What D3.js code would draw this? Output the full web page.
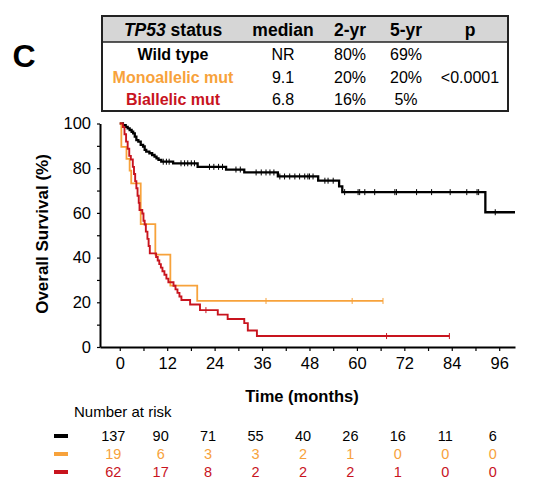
<!DOCTYPE html>
<html>
<head>
<meta charset="utf-8">
<script src="https://cdn.jsdelivr.net/npm/d3@7"></script>
<style>
body { margin: 0; background: #fff; }
svg { display: block; font-family: "Liberation Sans", Arial, sans-serif; }
</style>
</head>
<body>
<svg id="mySVG" width="534" height="496"></svg>
<script>
//---groups + colours---
var groupNames = ["Wild type", "Monoallelic mut", "Biallelic mut"]
var groupColors = ["#000000", "#F7A23B", "#C8141E"]

//---summary table---
var tableMedian = ["NR", "9.1", "6.8"]
var table2yr = ["80%", "20%", "16%"]
var table5yr = ["69%", "20%", "5%"]
var tableP = "<0.0001"

//---KM steps (months, % surviving after the step)---
var wtTimes = [0, 0.8, 1.5, 2.0, 2.5, 3.0, 3.4, 3.8, 4.2, 4.7, 5.3, 5.9, 6.3, 6.7, 7.5, 8.2, 8.8, 9.3, 9.8, 10.5, 13.5, 19.7, 26.9, 31.5, 40.0, 50.2, 55.5, 56.3, 92.5]
var wtSurv = [100, 99.3, 98.5, 97.8, 97.1, 96.3, 95.6, 94.1, 92.6, 91.9, 90.4, 89.7, 88.2, 87.4, 86.7, 85.9, 85.2, 84.4, 83.7, 82.9, 82.2, 80.6, 79.4, 78.1, 76.3, 74.4, 71.9, 69.3, 60.3]
var wtEnd = 100
var wtCensor = [11, 11.8, 12.5, 15.5, 16.4, 17.2, 18.1, 18.9, 22.7, 23.8, 25, 26, 29.4, 30.5, 34.5, 35.8, 37, 38, 39, 40.5, 41.7, 43, 44.3, 45.5, 46.8, 47.6, 48, 48.9, 51.9, 52.7, 54, 56.9, 60.3, 60.7, 62, 64.5, 69.6, 70, 75.1, 78.9, 83.6, 87.8, 90.4, 90.8, 95]

var monoTimes = [0, 0.4, 1.7, 2.5, 2.9, 5.3, 9.0, 12.8, 19.6]
var monoSurv = [100, 89.5, 84.2, 78.9, 73.2, 55.0, 41.3, 27.5, 20.6]
var monoEnd = 66.6
var monoCensor = [37, 58.8, 66.6]

var biTimes = [0, 0.8, 1.2, 1.6, 2.0, 2.4, 2.8, 3.3, 3.6, 3.9, 4.2, 4.5, 4.8, 5.0, 5.7, 6.0, 6.3, 6.6, 7.0, 7.3, 7.6, 9.2, 9.6, 10.0, 10.4, 10.8, 11.3, 11.8, 12.3, 13.6, 14.1, 14.6, 15.1, 15.6, 17.8, 20.3, 24.8, 27.3, 31.5, 32.4, 34.7]
var biSurv = [100, 98.4, 95.2, 91.9, 88.7, 85.5, 83.9, 80.6, 77.4, 74.2, 71.0, 67.7, 64.5, 61.3, 59.7, 56.5, 54.8, 51.6, 48.4, 45.2, 41.9, 40.3, 38.7, 37.1, 35.5, 33.9, 32.3, 30.6, 29.0, 27.4, 25.8, 24.2, 22.6, 21.0, 19.0, 16.5, 14.5, 12.5, 10.7, 7.4, 4.9]
var biEnd = 83.4
var biCensor = [21.8, 67.5, 83.4]

//---number at risk---
var riskTimes = [0, 12, 24, 36, 48, 60, 72, 84, 96]
var wtRisk = [137, 90, 71, 55, 40, 26, 16, 11, 6]
var monoRisk = [19, 6, 3, 3, 2, 1, 0, 0, 0]
var biRisk = [62, 17, 8, 2, 2, 2, 1, 0, 0]

var curves = [
    {times: wtTimes, surv: wtSurv, end: wtEnd, censor: wtCensor, risk: wtRisk, width: 2.3},
    {times: monoTimes, surv: monoSurv, end: monoEnd, censor: monoCensor, risk: monoRisk, width: 1.8},
    {times: biTimes, surv: biSurv, end: biEnd, censor: biCensor, risk: biRisk, width: 1.9}
]

var MySVG = d3.select("#mySVG")
MySVG.append("rect").attr("width", 534).attr("height", 496).attr("fill", "white")

//---panel letter---
MySVG.append("text")
    .attr("x", 24).attr("y", 67)
    .attr("text-anchor", "middle")
    .attr("font-size", 32).attr("font-weight", "bold")
    .text("C")

//---table---
var TableG = MySVG.append("g").attr("id", "tableG")
var colX = [173, 283, 350, 406, 470]
var rowY = [60, 83, 105]
TableG.append("rect")
    .attr("x", 102).attr("y", 16).attr("width", 406).attr("height", 26)
    .attr("fill", "#d6d6d6")
TableG.append("rect")
    .attr("x", 102).attr("y", 16).attr("width", 406).attr("height", 95)
    .attr("fill", "none").attr("stroke", "#222").attr("stroke-width", 2)
TableG.append("line")
    .attr("x1", 102).attr("x2", 508).attr("y1", 42).attr("y2", 42)
    .attr("stroke", "#222").attr("stroke-width", 1.5)

var head = TableG.append("text")
    .attr("x", colX[0]).attr("y", 36)
    .attr("text-anchor", "middle")
    .attr("font-size", 17.5).attr("font-weight", "bold")
head.append("tspan").attr("font-style", "italic").text("TP53")
head.append("tspan").text(" status")
var heads = ["median", "2-yr", "5-yr", "p"]
heads.forEach(function(h, i) {
    TableG.append("text")
        .attr("x", colX[i + 1]).attr("y", 36)
        .attr("text-anchor", "middle")
        .attr("font-size", 17.5).attr("font-weight", "bold")
        .text(h)
})
groupNames.forEach(function(g, i) {
    TableG.append("text")
        .attr("x", colX[0]).attr("y", rowY[i])
        .attr("text-anchor", "middle")
        .attr("font-size", 16).attr("font-weight", "bold")
        .attr("fill", i == 0 ? "#000" : groupColors[i])
        .text(g)
    var vals = [tableMedian[i], table2yr[i], table5yr[i]]
    vals.forEach(function(v, j) {
        TableG.append("text")
            .attr("x", colX[j + 1]).attr("y", rowY[i])
            .attr("text-anchor", "middle")
            .attr("font-size", 16)
            .text(v)
    })
})
TableG.append("text")
    .attr("x", colX[4]).attr("y", rowY[1])
    .attr("text-anchor", "middle")
    .attr("font-size", 16)
    .text(tableP)

//---scales---
var x = d3.scaleLinear().domain([-5, 100]).range([100, 515])
var y = d3.scaleLinear().domain([0, 100]).range([347, 123.5])

//---axes---
var PlotG = MySVG.append("g").attr("id", "plotG")
var xAxis = d3.axisBottom(x)
    .tickValues(d3.range(0, 97, 6))
    .tickSize(4).tickSizeOuter(0).tickPadding(6)
    .tickFormat(function(d) { return d % 12 == 0 ? d : "" })
var gx = PlotG.append("g")
    .attr("transform", "translate(0," + y(0) + ")")
    .call(xAxis)
var yAxis = d3.axisLeft(y)
    .tickValues(d3.range(0, 101, 10))
    .tickSize(3).tickSizeOuter(0).tickPadding(6)
    .tickFormat(function(d) { return d % 20 == 0 ? d : "" })
var gy = PlotG.append("g")
    .attr("transform", "translate(" + x(-5) + ",0)")
    .call(yAxis)
PlotG.selectAll(".domain").attr("stroke", "#000").attr("stroke-width", 2)
PlotG.selectAll(".tick line").attr("stroke", "#000").attr("stroke-width", 1.2)
PlotG.selectAll(".tick text")
    .attr("font-size", 16.5).attr("fill", "#000")
    .attr("font-family", "Liberation Sans, Arial, sans-serif")

PlotG.append("text")
    .attr("transform", "translate(48,234) rotate(-90)")
    .attr("text-anchor", "middle")
    .attr("font-size", 17).attr("font-weight", "bold")
    .text("Overall Survival (%)")
PlotG.append("text")
    .attr("x", 302).attr("y", 402)
    .attr("text-anchor", "middle")
    .attr("font-size", 16.5).attr("font-weight", "bold")
    .text("Time (months)")

//---curves (draw black first, red last)---
var stepLine = d3.line()
    .x(function(d) { return x(d[0]) })
    .y(function(d) { return y(d[1]) })
    .curve(d3.curveStepAfter)

function survAt(c, t) {
    var i = d3.bisectRight(c.times, t) - 1
    return c.surv[Math.max(0, i)]
}

var order = [0, 1, 2]
order.forEach(function(k) {
    var c = curves[k]
    var pts = c.times.map(function(t, i) { return [t, c.surv[i]] })
    pts.push([c.end, c.surv[c.surv.length - 1]])
    PlotG.append("path")
        .attr("d", stepLine(pts))
        .attr("fill", "none")
        .attr("stroke", groupColors[k])
        .attr("stroke-width", c.width)
    PlotG.append("g").selectAll("line")
        .data(c.censor)
        .join("line")
        .attr("x1", function(d) { return x(d) })
        .attr("x2", function(d) { return x(d) })
        .attr("y1", function(d) { return y(survAt(c, d)) - 3 })
        .attr("y2", function(d) { return y(survAt(c, d)) + 3 })
        .attr("stroke", groupColors[k])
        .attr("stroke-width", 1)
})

//---number at risk---
var RiskG = MySVG.append("g").attr("id", "riskG")
RiskG.append("text")
    .attr("x", 74).attr("y", 417)
    .attr("font-size", 15)
    .text("Number at risk")
var riskRowY = [436, 454, 472]
curves.forEach(function(c, k) {
    RiskG.append("rect")
        .attr("x", 54).attr("y", riskRowY[k] - 2)
        .attr("width", 14).attr("height", 4)
        .attr("fill", groupColors[k])
    RiskG.append("g").selectAll("text")
        .data(c.risk)
        .join("text")
        .attr("x", function(d, i) { return x(riskTimes[i]) - 6.5 })
        .attr("y", riskRowY[k] + 5)
        .attr("text-anchor", "middle")
        .attr("font-size", 14.5)
        .attr("fill", groupColors[k])
        .text(function(d) { return d })
})
</script>
</body>
</html>
